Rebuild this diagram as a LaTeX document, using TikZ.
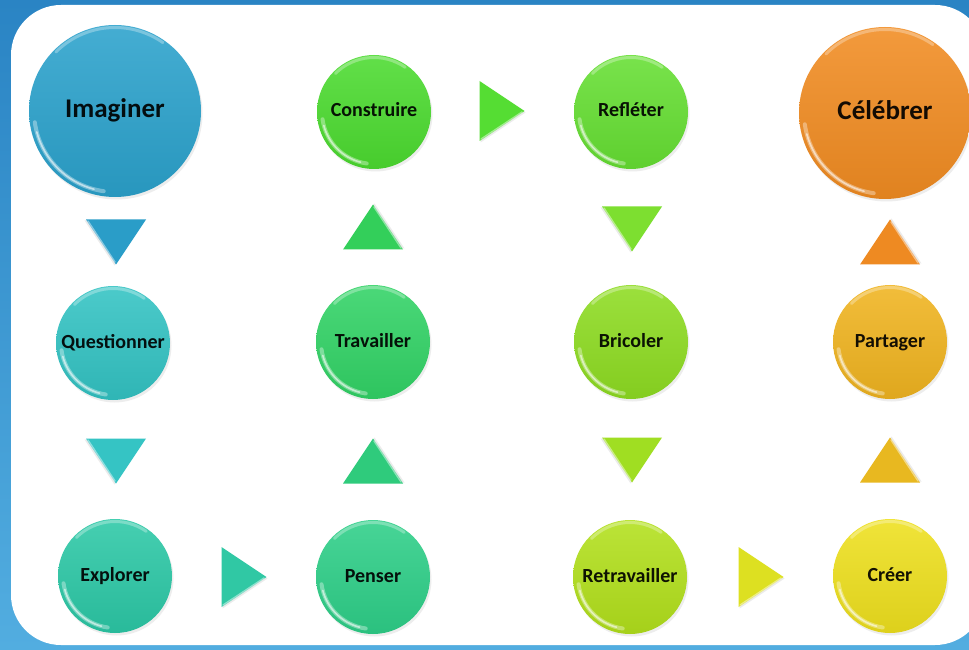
\documentclass[tikz,border=0pt]{standalone}
\usepackage{fontspec}
\setmainfont{Carlito}
\usetikzlibrary{shadows,calc}

\definecolor{bgtop}{HTML}{2A84C4}
\definecolor{bgbot}{HTML}{52ADE0}
\definecolor{cA}{HTML}{2BA2CC}
\definecolor{cB}{HTML}{33C3C3}
\definecolor{cC}{HTML}{2CC8A6}
\definecolor{cD}{HTML}{2ECF88}
\definecolor{cE}{HTML}{32D366}
\definecolor{cF}{HTML}{4CDB30}
\definecolor{cG}{HTML}{66DF33}
\definecolor{cH}{HTML}{8EDC22}
\definecolor{cI}{HTML}{B2E01C}
\definecolor{cJ}{HTML}{EEE01E}
\definecolor{cK}{HTML}{F0B420}
\definecolor{cL}{HTML}{F18C22}
\definecolor{tA}{HTML}{2A9DC8}
\definecolor{tB}{HTML}{35C4C4}
\definecolor{tC}{HTML}{30C8A4}
\definecolor{tD}{HTML}{2FCB7C}
\definecolor{tE}{HTML}{33CF5A}
\definecolor{tF}{HTML}{55DD33}
\definecolor{tG}{HTML}{7DDF30}
\definecolor{tH}{HTML}{A0DE22}
\definecolor{tI}{HTML}{DDE021}
\definecolor{tJ}{HTML}{E8B820}
\definecolor{tK}{HTML}{EE8A22}

\tikzset{
  ball/.style={circle, inner sep=0pt, minimum size=2*#1,
    drop shadow={opacity=.14, shadow xshift=1.5pt, shadow yshift=-2.5pt},
    path picture={
      \coordinate (pc) at (path picture bounding box.center);
      \draw[white, opacity=.35, line width=4pt, line cap=round]
        ($(pc)+(188:#1-5)$) arc[start angle=188, end angle=262, radius=#1-5];
      \draw[white, opacity=.55, line width=1.6pt, line cap=round]
        ($(pc)+(195:#1-5)$) arc[start angle=195, end angle=255, radius=#1-5];
      \draw[white, opacity=.3, line width=3pt, line cap=round]
        ($(pc)+(55:#1-2.5)$) arc[start angle=55, end angle=135, radius=#1-2.5];
    }},
  big/.style={ball=86, font=\bfseries\fontsize{27}{27}\selectfont,
    text height=19.4pt, text depth=5.9pt},
  small/.style={ball=57, font=\bfseries\fontsize{20}{20}\selectfont,
    text height=14.4pt, text depth=4.4pt},
  col/.style={top color=#1!88!white, bottom color=#1!93!black, text=#1!8!black},
  trifill/.style={fill=#1},
}

% triangle arrow: name, x, y, rotation, colour
\newcommand{\arrowtri}[5]{%
  \coordinate (#1) at (#2,#3);
  \begin{scope}[shift={(#1)}, rotate=#4]
    \fill[black, opacity=.08] (23.5,-1.5) -- (-21.5,28.5) -- (-21.5,-31.5) -- cycle;
    \fill[trifill=#5] (22.5,0) -- (-22.5,30) -- (-22.5,-30) -- cycle;
    \draw[white, opacity=.45, line width=1.4pt, line cap=round] (-21,-28) -- (20,-1);
  \end{scope}}

\begin{document}
\begin{tikzpicture}[x=1pt, y=1pt]
  \useasboundingbox (0,0) rectangle (969,649);
  \clip (0,0) rectangle (969,649);
  \shade[top color=bgtop, bottom color=bgbot] (0,0) rectangle (969,649);
  \fill[white, rounded corners=50pt] (11,4) rectangle (985,644);

  % circles
  \node[big, col=cA]   (imag)  at (115,538) {Imaginer};
  \node[small, col=cB] (quest) at (113,306) {Questionner};
  \node[small, col=cC] (expl)  at (115,73)  {Explorer};
  \node[small, col=cD] (pens)  at (373,72)  {Penser};
  \node[small, col=cE] (trav)  at (373,307) {Travailler};
  \node[small, col=cF] (cons)  at (374,537) {Construire};
  \node[small, col=cG] (refl)  at (631,537) {Refléter};
  \node[small, col=cH] (bric)  at (631,307) {Bricoler};
  \node[small, col=cI] (retr)  at (630,72)  {Retravailler};
  \node[small, col=cJ] (cree)  at (890,73)  {Créer};
  \node[small, col=cK] (part)  at (890,307) {Partager};
  \node[big, col=cL]   (celb)  at (885,536) {Célébrer};

  % triangle arrows
  \arrowtri{a1}{116}{407}{-90}{tA}
  \arrowtri{a2}{116}{188}{-90}{tB}
  \arrowtri{a3}{244}{72}{0}{tC}
  \arrowtri{a4}{373}{188}{90}{tD}
  \arrowtri{a5}{373}{422}{90}{tE}
  \arrowtri{a6}{502}{538}{0}{tF}
  \arrowtri{a7}{632}{420}{-90}{tG}
  \arrowtri{a8}{632}{189}{-90}{tH}
  \arrowtri{a9}{761}{72}{0}{tI}
  \arrowtri{a10}{890}{189}{90}{tJ}
  \arrowtri{a11}{890}{407}{90}{tK}
\end{tikzpicture}
\end{document}
